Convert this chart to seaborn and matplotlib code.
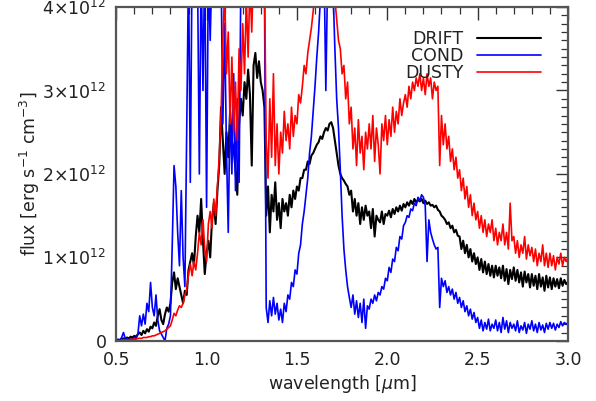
import numpy as np
import pandas as pd
import matplotlib
matplotlib.use("Agg")
import matplotlib.pyplot as plt
import seaborn as sns
from matplotlib.ticker import MultipleLocator, FuncFormatter

# wavelength grid (micron), 0.50 .. 3.00 step 0.01
wavelength = np.round(np.arange(0.50, 3.0001, 0.01), 2)

# flux values in units of 1e12 erg s^-1 cm^-3
drift = [
    0.00,0.01,0.01,0.02,0.03,0.02,0.04,0.03,0.05,0.04,
    0.06,0.05,0.08,0.10,0.07,0.12,0.09,0.14,0.11,0.17,
    0.15,0.22,0.18,0.30,0.38,0.25,0.20,0.32,0.40,0.35,
    0.45,0.70,0.82,0.62,0.75,0.65,0.55,0.45,0.60,0.55,
    0.85,0.95,1.05,0.90,1.25,1.50,1.30,1.70,1.20,0.80,
    1.05,1.20,1.00,1.45,1.65,1.40,1.80,2.10,2.80,2.40,
    2.00,2.50,2.20,2.75,2.40,2.30,2.05,1.75,2.60,2.90,
    2.70,3.10,2.90,3.25,2.95,2.10,3.30,3.45,3.15,3.35,
    3.10,3.00,2.80,1.50,1.85,1.30,1.75,1.55,1.90,1.45,
    1.65,1.35,1.70,1.55,1.65,1.50,1.75,1.60,1.80,1.70,
    1.85,1.80,1.95,1.95,2.05,2.05,2.15,2.12,2.22,2.25,
    2.30,2.35,2.38,2.45,2.42,2.50,2.55,2.52,2.60,2.62,
    2.55,2.40,2.25,2.10,2.00,1.95,1.92,1.88,1.85,1.75,
    1.80,1.55,1.70,1.50,1.65,1.40,1.60,1.45,1.62,1.50,
    1.55,1.35,1.58,1.25,1.50,1.45,1.42,1.55,1.40,1.52,
    1.50,1.56,1.48,1.58,1.52,1.60,1.55,1.62,1.56,1.64,
    1.60,1.66,1.62,1.68,1.64,1.70,1.66,1.69,1.67,1.70,
    1.65,1.68,1.64,1.66,1.62,1.63,1.60,1.62,1.57,1.55,
    1.50,1.48,1.45,1.40,1.42,1.35,1.38,1.30,1.33,1.26,
    1.25,1.10,1.20,1.05,1.15,1.00,1.10,0.95,1.05,0.92,
    1.00,0.85,0.98,0.82,0.95,0.80,0.92,0.78,0.90,0.76,
    0.90,0.78,0.88,0.75,0.90,0.72,0.86,0.68,0.85,0.74,
    0.88,0.72,0.85,0.70,0.82,0.65,0.83,0.70,0.80,0.64,
    0.80,0.66,0.78,0.62,0.80,0.65,0.76,0.60,0.78,0.64,
    0.76,0.62,0.75,0.65,0.74,0.63,0.75,0.66,0.73,0.68,0.70,
]

cond = [
    0.00,0.02,0.01,0.04,0.10,0.03,0.02,0.01,0.03,0.02,
    0.04,0.03,0.08,0.30,0.18,0.32,0.20,0.45,0.35,0.70,
    0.40,0.30,0.55,0.25,0.12,0.08,0.04,0.00,0.15,0.20,
    0.30,1.15,2.10,1.85,1.30,0.90,1.80,1.00,0.65,2.50,
    4.50,1.90,4.60,4.30,4.50,4.40,2.00,4.50,3.00,4.60,
    1.60,4.50,3.60,4.50,4.40,4.60,4.50,4.40,4.50,2.60,
    3.80,2.30,1.30,2.80,2.00,3.20,1.80,2.90,1.90,4.40,
    4.50,4.40,4.60,4.50,4.40,4.60,4.50,4.40,4.60,4.50,
    4.50,4.60,4.40,0.40,0.22,0.48,0.30,0.52,0.32,0.45,
    0.25,0.38,0.22,0.45,0.35,0.55,0.50,0.70,0.65,0.85,
    0.80,1.05,1.15,1.40,1.55,1.75,1.95,2.25,2.45,2.75,
    3.05,3.40,3.70,4.10,4.30,4.50,3.00,4.40,4.60,4.30,
    4.20,3.50,2.90,2.55,2.05,1.50,1.10,0.85,0.65,0.52,
    0.40,0.55,0.32,0.48,0.28,0.45,0.22,0.50,0.15,0.42,
    0.38,0.50,0.45,0.55,0.48,0.58,0.55,0.65,0.62,0.75,
    0.72,0.88,0.82,0.98,0.95,1.12,1.08,1.25,1.22,1.38,
    1.42,1.50,1.48,1.58,1.56,1.65,1.62,1.72,1.68,1.75,
    1.72,1.62,0.95,1.45,1.30,1.22,1.15,1.10,1.12,0.40,
    0.75,0.65,0.72,0.58,0.65,0.55,0.62,0.50,0.58,0.45,
    0.52,0.40,0.48,0.35,0.42,0.30,0.38,0.26,0.34,0.22,
    0.28,0.15,0.25,0.12,0.22,0.14,0.26,0.12,0.20,0.15,
    0.25,0.12,0.22,0.10,0.28,0.14,0.24,0.10,0.22,0.15,
    0.20,0.12,0.24,0.10,0.18,0.13,0.22,0.09,0.20,0.14,
    0.24,0.12,0.20,0.10,0.22,0.13,0.19,0.10,0.21,0.14,
    0.22,0.15,0.21,0.13,0.20,0.16,0.23,0.18,0.22,0.20,0.22,
]

dusty = [
    0.00,0.00,0.00,0.01,0.01,0.01,0.01,0.01,0.02,0.02,
    0.02,0.02,0.03,0.03,0.03,0.04,0.04,0.04,0.05,0.05,
    0.06,0.06,0.07,0.08,0.09,0.10,0.11,0.12,0.14,0.16,
    0.18,0.25,0.33,0.30,0.37,0.42,0.40,0.45,0.55,0.62,
    0.80,0.92,0.78,0.95,0.85,1.05,1.30,1.15,1.45,1.10,
    0.95,1.40,1.55,1.35,1.70,1.50,1.85,2.20,2.70,3.60,
    4.20,3.20,3.70,2.60,3.40,2.50,3.10,2.40,3.50,3.00,
    3.80,3.20,4.10,3.40,4.30,3.70,4.50,4.20,4.60,4.30,
    4.50,4.30,4.40,2.40,1.95,2.90,2.20,3.20,2.10,2.60,
    2.00,2.50,2.25,2.75,2.40,2.60,2.30,2.80,2.45,2.70,
    2.60,2.95,2.85,3.05,3.30,3.20,3.45,3.60,3.75,3.95,
    4.20,4.10,4.30,4.40,4.50,4.30,4.60,4.40,4.50,4.30,
    4.30,4.10,3.85,3.60,3.50,3.20,3.30,2.90,3.10,2.60,
    2.80,2.30,2.55,2.10,2.65,2.25,2.45,2.05,2.50,2.30,
    2.60,2.30,2.70,2.15,2.55,2.35,2.00,2.60,2.40,2.70,
    2.35,2.65,2.45,2.80,2.50,2.75,2.60,2.90,2.70,2.85,
    2.95,2.80,3.05,2.90,3.10,3.00,3.15,3.05,3.20,3.00,
    3.15,2.95,3.20,3.05,3.15,2.90,3.10,3.00,3.05,2.10,
    2.70,2.35,2.60,2.30,2.45,2.15,2.30,2.05,2.20,1.95,
    2.05,1.80,1.95,1.70,1.85,1.60,1.75,1.50,1.65,1.45,
    1.55,1.35,1.50,1.30,1.45,1.25,1.40,1.30,1.45,1.20,
    1.35,1.15,1.30,1.20,1.40,1.15,1.30,1.10,1.65,1.20,
    1.25,1.05,1.20,1.00,1.15,1.05,1.25,0.98,1.15,1.02,
    1.12,0.95,1.10,0.90,1.05,0.95,1.15,0.90,1.05,0.88,
    1.05,0.90,1.02,0.85,1.00,0.92,1.05,0.90,1.00,0.95,1.00,
]

models = ["DRIFT", "COND", "DUSTY"]
colors = {"DRIFT": "black", "COND": "blue", "DUSTY": "red"}
widths = {"DRIFT": 1.5, "COND": 1.2, "DUSTY": 1.2}
series = {"DRIFT": drift, "COND": cond, "DUSTY": dusty}

sns.set_style("white")
plt.rcParams["font.family"] = ["DejaVu Sans"]
plt.rcParams["mathtext.fontset"] = "dejavusans"

fig = plt.figure(figsize=(5.96, 4.01), dpi=100)
ax = fig.add_axes([0.195, 0.150, 0.953 - 0.195, 0.9825 - 0.150])

for m in models:
    df = pd.DataFrame({"wavelength": wavelength,
                       "flux": np.array(series[m]) * 1e12})
    sns.lineplot(data=df, x="wavelength", y="flux", ax=ax, color=colors[m],
                 linewidth=widths[m], label=m, estimator=None, sort=False)

ax.set_xlim(0.5, 3.0)
ax.set_ylim(0, 4e12)
ax.xaxis.set_major_locator(MultipleLocator(0.5))
ax.xaxis.set_minor_locator(MultipleLocator(0.1))
ax.yaxis.set_major_locator(MultipleLocator(1e12))
ax.yaxis.set_minor_locator(MultipleLocator(1e11))
ax.xaxis.set_major_formatter(FuncFormatter(lambda v, p: f"{v:.1f}"))

def yfmt(v, p):
    n = int(round(v / 1e12))
    return "0" if n == 0 else rf"{n}$\times$10$^{{12}}$"
ax.yaxis.set_major_formatter(FuncFormatter(yfmt))

ax.tick_params(which="both", direction="in", top=True, right=True,
               color="#333333", labelsize=12.5, labelcolor="#222222")
ax.tick_params(which="major", length=9, width=1.0, pad=7)
ax.tick_params(which="minor", length=5, width=0.9)
for s in ax.spines.values():
    s.set_color("#555555")
    s.set_linewidth(1.6)

ax.set_xlabel(r"wavelength [$\mu$m]", fontsize=12.5, color="#222222", labelpad=3)
ax.set_ylabel(r"flux [erg s$^{-1}$ cm$^{-3}$]", fontsize=12.5, color="#222222", labelpad=0)

leg = ax.legend(loc="upper right", bbox_to_anchor=(0.940, 0.932), frameon=False,
                markerfirst=False, fontsize=12.5, handlelength=3.7,
                handletextpad=0.75, labelspacing=-0.05, borderpad=0,
                borderaxespad=0)
for t in leg.get_texts():
    t.set_color("#222222")

fig.savefig("out.png", dpi=100)
